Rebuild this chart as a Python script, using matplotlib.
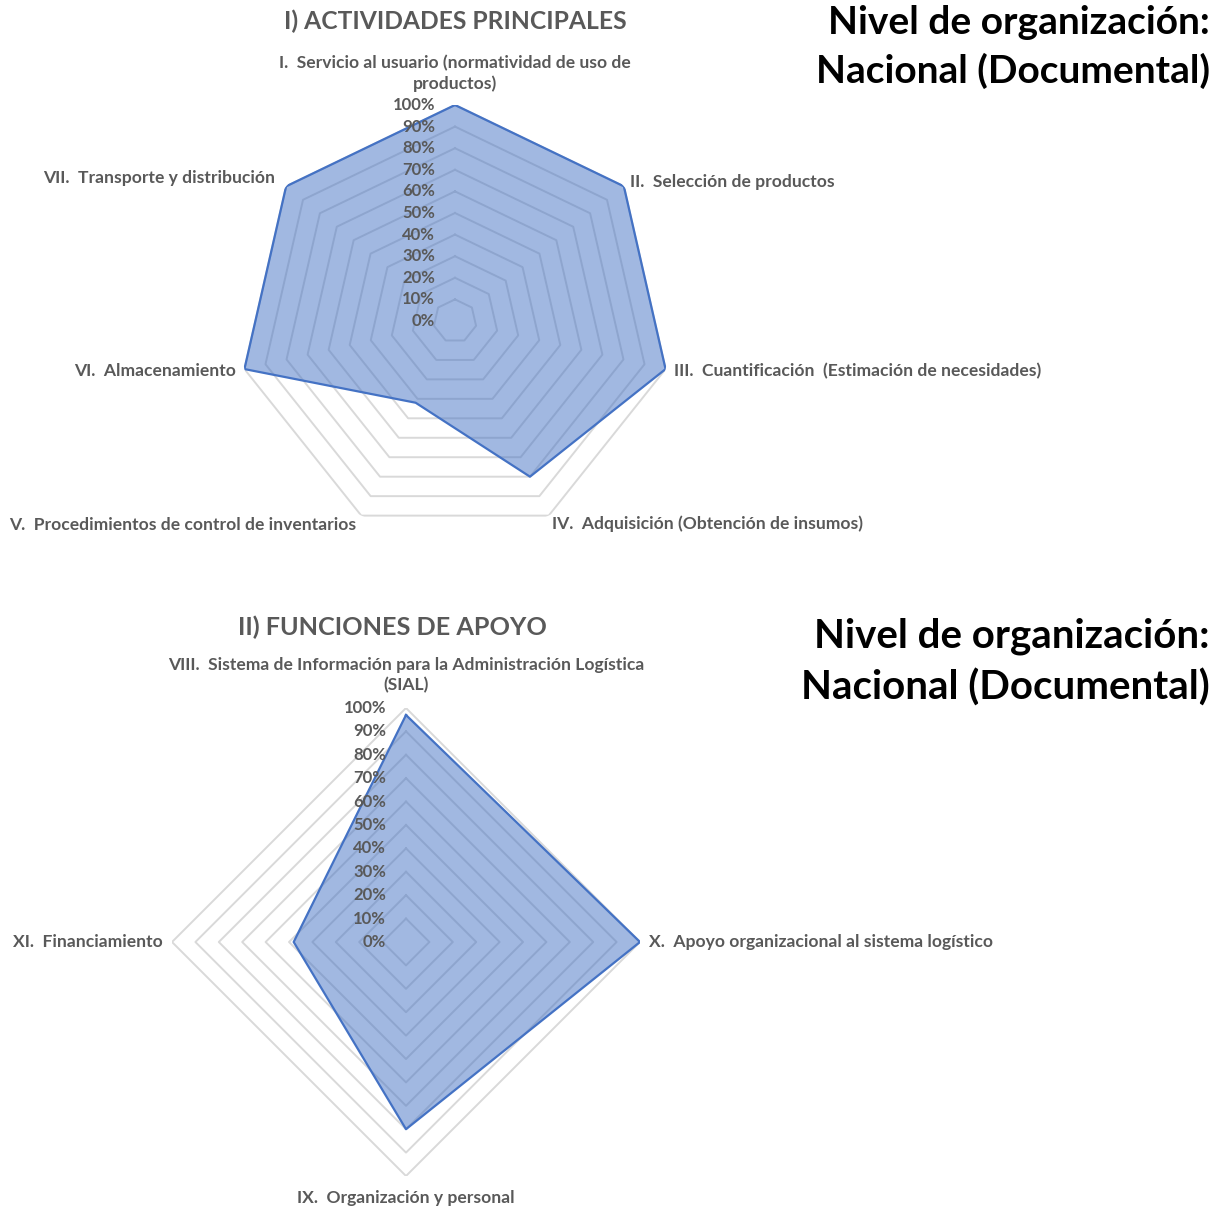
import numpy as np
import matplotlib.pyplot as plt

# datos
cat_principales = [
    "I.  Servicio al usuario (normatividad de uso de\nproductos)",
    "II.  Selección de productos",
    "III.  Cuantificación  (Estimación de necesidades)",
    "IV.  Adquisición (Obtención de insumos)",
    "V.  Procedimientos de control de inventarios",
    "VI.  Almacenamiento",
    "VII.  Transporte y distribución",
]
val_principales = [1.00, 1.00, 1.00, 0.80, 0.42, 1.00, 1.00]

cat_apoyo = [
    "VIII.  Sistema de Información para la Administración Logística\n(SIAL)",
    "X.  Apoyo organizacional al sistema logístico",
    "IX.  Organización y personal",
    "XI.  Financiamiento",
]
val_apoyo = [0.97, 1.00, 0.80, 0.48]

niveles = np.arange(1, 11) / 10
etiquetas_pct = ["%d%%" % p for p in range(0, 101, 10)]

GRIS = "#595959"
AZUL = "#4472C4"
W, H = 1222, 1210
plt.rcParams['font.family'] = ['Lato', 'DejaVu Sans']

fig = plt.figure(figsize=(W / 100, H / 100), dpi=100)


def radar(rect, cats, vals, label_pos):
    ax = fig.add_axes(rect, projection='polar')
    ax.set_theta_offset(np.pi / 2)
    ax.set_theta_direction(-1)
    ax.set_ylim(0, 1)
    ax.grid(False)
    ax.set_xticks([])
    ax.set_yticks([])
    ax.spines['polar'].set_visible(False)
    ax.patch.set_alpha(0)
    n = len(cats)
    ang = np.linspace(0, 2 * np.pi, n, endpoint=False)
    ang_c = np.append(ang, ang[0])
    for r in niveles:
        ax.plot(ang_c, [r] * (n + 1), color='#d9d9d9', lw=1.4, zorder=1)
    v = np.append(vals, vals[0])
    ax.fill(ang_c, v, color=AZUL, alpha=0.5, lw=0, zorder=2)
    ax.plot(ang_c, v, color=AZUL, lw=1.6, zorder=3)
    for r, t in zip(np.append(0, niveles), etiquetas_pct):
        ax.annotate(t, (0, r), xytext=(-20, 0), textcoords='offset pixels',
                    ha='right', va='center', fontsize=12, color=GRIS,
                    fontweight='bold', zorder=4, annotation_clip=False)
    for a, c, (rr, ha, va) in zip(ang, cats, label_pos):
        ax.text(a, rr, c, ha=ha, va=va, fontsize=12.6, color=GRIS,
                fontweight='bold', linespacing=1.3)
    return ax


# I) actividades principales: centro (455, 321), radio 216 px
cx, cy, R = 455, 321, 216
radar([(cx - R) / W, 1 - (cy + R) / H, 2 * R / W, 2 * R / H],
      cat_principales, val_principales,
      [(1.06, 'center', 'bottom'), (1.035, 'left', 'center'),
       (1.04, 'left', 'center'), (1.04, 'left', 'center'),
       (1.05, 'right', 'center'), (1.04, 'right', 'center'),
       (1.065, 'right', 'center')])

# II) funciones de apoyo: centro (406, 942), radio 234 px
cx, cy, R = 406, 942, 234
radar([(cx - R) / W, 1 - (cy + R) / H, 2 * R / W, 2 * R / H],
      cat_apoyo, val_apoyo,
      [(1.065, 'center', 'bottom'), (1.04, 'left', 'center'),
       (1.06, 'center', 'top'), (1.04, 'right', 'center')])

fig.text(455 / W, 1 - 21 / H, "I) ACTIVIDADES PRINCIPALES", ha='center',
         va='center', fontsize=17.7, color=GRIS, fontweight='bold')
fig.text(392 / W, 1 - 627 / H, "II) FUNCIONES DE APOYO", ha='center',
         va='center', fontsize=18.2, color=GRIS, fontweight='bold')

fig.text(1210 / W, 1 - 47 / H, "Nivel de organización:\nNacional (Documental)",
         ha='right', va='center', fontsize=28, color='black',
         fontweight='bold', linespacing=1.42)
fig.text(1210 / W, 1 - 662 / H, "Nivel de organización:\nNacional (Documental)",
         ha='right', va='center', fontsize=29, color='black',
         fontweight='bold', linespacing=1.42)

fig.savefig('out.png', dpi=100)
